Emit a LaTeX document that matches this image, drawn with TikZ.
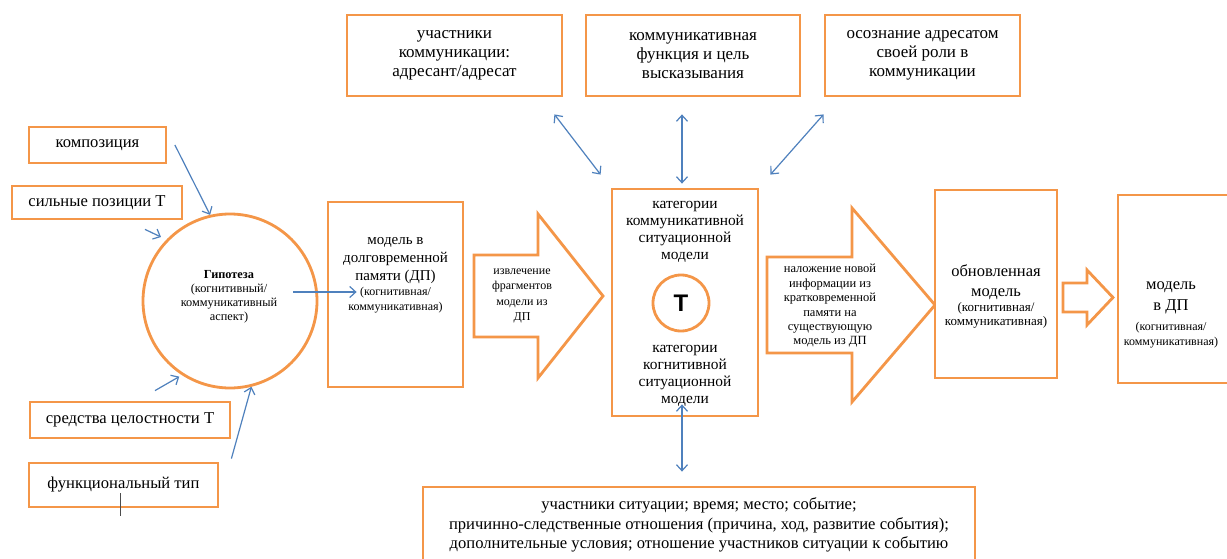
\documentclass[tikz,border=0pt]{standalone}
\usepackage{fontspec}
\setmainfont{Liberation Serif}
\newfontfamily\serifcyr{Liberation Serif}
\newfontfamily\tfont{Liberation Sans}
\usepackage{xcolor}
\usetikzlibrary{arrows.meta,calc,positioning}
\definecolor{boxorange}{RGB}{244,150,72}
\definecolor{linkblue}{RGB}{79,129,189}

\begin{document}
\begin{tikzpicture}[
    x=1pt, y=-1pt,
    >={Straight Barb[length=6pt,width=11pt]},
    box/.style={rectangle, draw=boxorange, line width=2.8pt, fill=white, align=center, inner sep=0pt, font=\serifcyr\fontsize{16.6}{19.5}\selectfont},
    ring/.style={circle, draw=boxorange, line width=2.8pt, fill=white, inner sep=0pt},
    blockarrow/.style={draw=boxorange, line width=2.8pt, line join=miter, fill=white},
    txt/.style={align=center, inner sep=0pt},
    flow/.style={->, draw=linkblue, line width=1.2pt},
    both/.style={<->, draw=linkblue, line width=1.2pt}
  ]
    \useasboundingbox (0,0) rectangle (1227,559);
    \fill[white] (0,0) rectangle (1227,559);
    \clip (0,0) rectangle (1227,559);

    % left column
    \node[box, minimum width=137pt, minimum height=36pt] (comp) at (97.5,145) {композиция};
    \node[box, minimum width=170pt, minimum height=33pt] (strong) at (97,202.5) {сильные позиции Т};
    \node[box, minimum width=200pt, minimum height=36pt] (means) at (130,420) {средства целостности Т};
    \node[box, minimum width=189pt, minimum height=44pt] (ftype) at (123.5,485) {функциональный тип};
    \node[ring, minimum size=174pt] (hyp) at (230,301) {};
    \node[txt, font=\serifcyr\fontsize{12.3}{14}\selectfont] (hyptxt) at (229,297) {\textbf{Гипотеза}\\(когнитивный/\\коммуникативный\\аспект)};

    % long-term memory model
    \node[box, minimum width=135pt, minimum height=185pt] (dp) at (395.5,294.5) {};
    \node[txt, font=\serifcyr\fontsize{15}{18}\selectfont] (dptxt) at (395.5,261) {модель в\\долговременной\\памяти (ДП)};
    \node[txt, font=\serifcyr\fontsize{12}{15}\selectfont] (dpsub) at (395.5,300.5) {(когнитивная/\\коммуникативная)};

    % top row
    \node[box, font=\serifcyr\fontsize{17}{19}\selectfont, minimum width=215pt, minimum height=81pt] (part) at (454.5,55.5) {участники\\коммуникации:\\адресант/адресат};
    \node[box, font=\serifcyr\fontsize{17}{19}\selectfont, minimum width=214pt, minimum height=81pt] (func) at (693,55.5) {коммуникативная\\функция и цель\\высказывания};
    \node[box, font=\serifcyr\fontsize{17}{19}\selectfont, minimum width=195pt, minimum height=81pt] (aware) at (922.5,55.5) {осознание адресатом\\своей роли в\\коммуникации};

    % central model
    \node[box, minimum width=146pt, minimum height=227pt] (cat) at (685,302.5) {};
    \node[txt, font=\serifcyr\fontsize{15.4}{17}\selectfont] (cattop) at (685,232) {категории\\коммуникативной\\ситуационной\\модели};
    \node[ring, minimum size=56pt, font=\tfont\bfseries\fontsize{24}{24}\selectfont] (tcirc) at (681,303) {Т};
    \node[txt, font=\serifcyr\fontsize{15.4}{17}\selectfont] (catbot) at (685,376) {категории\\когнитивной\\ситуационной\\модели};

    % bottom row
    \node[box, minimum width=552pt, minimum height=76pt] (events) at (699,525) {участники ситуации; время; место; событие;\\причинно-следственные отношения (причина, ход, развитие события);\\дополнительные условия; отношение участников ситуации к событию};

    % block arrows
    \draw[blockarrow] (474,255) -- (538,255) -- (538,214) -- (603,296) -- (538,378) -- (538,337) -- (474,337) -- cycle;
    \node[txt, font=\serifcyr\fontsize{12}{15.5}\selectfont] (extr) at (522,296) {извлечение\\фрагментов\\модели из\\ДП};
    \draw[blockarrow] (767,257) -- (852,257) -- (852,208) -- (935,305) -- (852,402) -- (852,353) -- (767,353) -- cycle;
    \node[txt, font=\serifcyr\fontsize{12.5}{14.4}\selectfont] (overlay) at (830,306) {наложение новой\\информации из\\кратковременной\\памяти на\\существующую\\модель из ДП};
    \draw[blockarrow] (1063,283) -- (1087,283) -- (1087,270) -- (1113,297.5) -- (1087,325) -- (1087,312) -- (1063,312) -- cycle;

    % updated and stored model
    \node[box, minimum width=122pt, minimum height=188pt] (upd) at (996,284) {};
    \node[txt, font=\serifcyr\fontsize{16.5}{20}\selectfont] (updtxt) at (996,282) {обновленная\\модель};
    \node[txt, font=\serifcyr\fontsize{13}{14}\selectfont] (updsub) at (996,315) {(когнитивная/\\коммуникативная)};
    \node[box, minimum width=112pt, minimum height=188pt] (fin) at (1174,289) {};
    \node[txt, font=\serifcyr\fontsize{16.5}{21}\selectfont] (fintxt) at (1171,297.5) {модель\\в ДП};
    \node[txt, font=\serifcyr\fontsize{12}{15}\selectfont] (finsub) at (1171,335.5) {(когнитивная/\\коммуникативная)};

    % connectors
    \draw[flow] ([xshift=7.5pt]comp.east) -- (hyp.103);
    \draw[flow, shorten >=6pt] ([shift={(48,9)}]strong.south) -- (hyp.136);
    \draw[flow, shorten >=3pt] ([shift={(25,-10)}]means.north) -- (hyp.237);
    \draw[flow] ([shift={(12,-3)}]ftype.north east) -- (hyp.284);
    \draw[flow] ([shift={(63,-9)}]hyp.center) -- ([shift={(30,-2.5)}]dp.west);
    \draw[both] ([shift={(-9,17)}]part.south east) -- ([shift={(-10,-13)}]cat.north west);
    \draw[both] ([shift={(-11,17)}]func.south) -- ([shift={(-3,-4)}]cat.north);
    \draw[both] ([shift={(0,17)}]aware.south west) -- ([shift={(11,-13)}]cat.north east);
    \draw[both] ([shift={(-3,-13)}]cat.south) -- ([shift={(-17,-14)}]events.north);
    \draw[black!70, line width=0.8pt] ([shift={(-3.5,-15)}]ftype.south) -- ([shift={(-3.5,8)}]ftype.south);
  \end{tikzpicture}
\end{document}
